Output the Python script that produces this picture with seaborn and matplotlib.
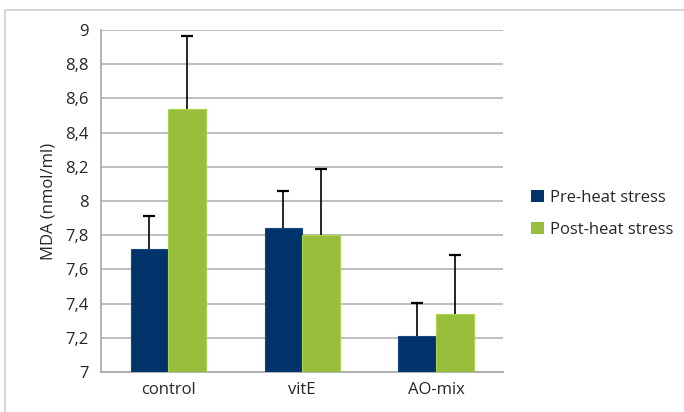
import matplotlib
matplotlib.use("Agg")
import matplotlib.pyplot as plt
from matplotlib.patches import Rectangle
import seaborn as sns
import pandas as pd
import numpy as np

groups = ["control", "vitE", "AO-mix"]
series = ["Pre-heat stress", "Post-heat stress"]
pre_vals = [7.72, 7.845, 7.212]
post_vals = [8.536, 7.80, 7.337]
pre_err = [0.193, 0.212, 0.193]
post_err = [0.431, 0.386, 0.347]
yticks = [7.0, 7.2, 7.4, 7.6, 7.8, 8.0, 8.2, 8.4, 8.6, 8.8, 9.0]
ytick_labels = ["7", "7,2", "7,4", "7,6", "7,8", "8", "8,2", "8,4", "8,6", "8,8", "9"]

colors = ["#00336A", "#98BF3B"]

sns.set_theme(style="white")
plt.rcParams["font.family"] = ["Open Sans", "DejaVu Sans"]

df = pd.DataFrame({
    "group": groups * 2,
    "series": [series[0]] * 3 + [series[1]] * 3,
    "value": pre_vals + post_vals,
    "err": pre_err + post_err,
})

FS = 12

fig = plt.figure(figsize=(6.84, 4.12), dpi=100)
ax = fig.add_axes([0.1477, 0.097, 0.5877, 0.830])

sns.barplot(data=df, x="group", y="value", hue="series", palette=colors,
            width=0.56, order=groups, hue_order=series, ax=ax,
            errorbar=None, saturation=1, linewidth=0.8, zorder=3)

for p in ax.patches:
    fc = p.get_facecolor()
    p.set_edgecolor(tuple(min(1, c + 0.08) for c in fc[:3]))

bars = [p for p in ax.patches if p.get_width() > 0 and p.get_height() != 0]
for s_i, s in enumerate(series):
    sub = df[df["series"] == s]
    for g_i, g in enumerate(groups):
        p = bars[s_i * 3 + g_i]
        xc = p.get_x() + p.get_width() / 2
        row = sub[sub["group"] == g].iloc[0]
        eb = ax.errorbar(xc, row["value"], yerr=[[0], [row["err"]]], fmt="none",
                         ecolor="black", elinewidth=1.2, capsize=4, capthick=1.6, zorder=4)
        caps = eb[1]
        if len(caps) == 2:
            caps[0].set_visible(False)

ax.set_ylim(7, 9)
ax.set_xlim(-0.5, 2.5)
ax.set_yticks(yticks)
ax.set_yticklabels(ytick_labels, fontsize=FS)
ax.set_xlabel("")
ax.set_ylabel("MDA (nmol/ml)", fontsize=FS, labelpad=6)
ax.tick_params(axis="x", labelsize=FS, length=0, pad=7)
ax.set_xticks([-0.5, 0.5, 1.5, 2.5], minor=True)
ax.tick_params(axis="x", which="minor", length=5, color="#a6a6a6", width=1, direction="out")
ax.tick_params(axis="y", length=5, color="#a6a6a6", width=1, direction="out", pad=4)
ax.yaxis.grid(True, color="#b3b3b3", linewidth=1.2, zorder=0)
ax.set_axisbelow(True)
for side in ["top", "right"]:
    ax.spines[side].set_visible(False)
for side in ["left", "bottom"]:
    ax.spines[side].set_color("#a6a6a6")
    ax.spines[side].set_linewidth(1.2)

leg = ax.legend(loc="center left", bbox_to_anchor=(1.05, 0.462), frameon=False,
                fontsize=FS, handlelength=0.75, handleheight=0.75,
                handletextpad=0.35, labelspacing=0.95, borderpad=0)
for h in leg.legend_handles:
    h.set_edgecolor("none")

fig.patches.append(Rectangle((5 / 684, -0.05), 1.1, (412 - 10) / 412 + 0.05,
                             transform=fig.transFigure, fill=False,
                             edgecolor="#cfcfcf", linewidth=1.2))

fig.savefig("out.png", dpi=100)
